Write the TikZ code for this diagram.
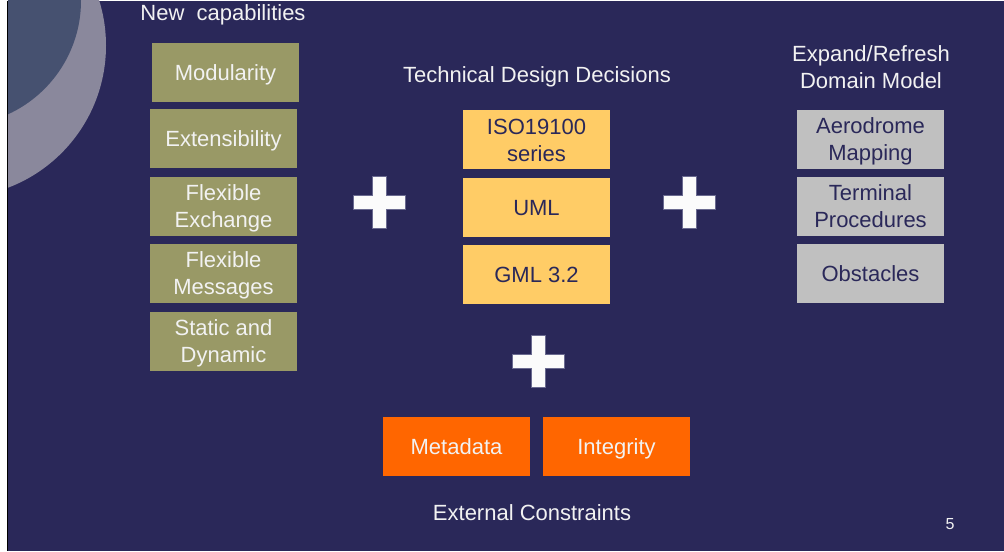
\documentclass[tikz,border=0pt]{standalone}
\usepackage{fontspec}
\setmainfont{Liberation Sans}
\definecolor{slidebg}{HTML}{2A2859}
\definecolor{olivebox}{HTML}{999966}
\definecolor{goldbox}{HTML}{FFCC66}
\definecolor{greybox}{HTML}{C0C0C0}
\definecolor{orangebox}{HTML}{FF6600}
\definecolor{ringlight}{HTML}{8A889C}
\definecolor{ringdark}{HTML}{465170}
\definecolor{lighttext}{HTML}{F2F2F2}
\definecolor{crossedge}{HTML}{6A6A90}
% strut as tall as an ascender, no depth: keeps capitals centred in the boxes
\newcommand\capline{\rule{0pt}{16pt}}
\tikzset{
  card/.style={rectangle, inner sep=0pt, minimum width=147pt, minimum height=59pt,
    align=center, text depth=0pt, font=\fontsize{22}{27}\selectfont},
  capbox/.style={card, fill=olivebox, text=lighttext},
  techbox/.style={card, fill=goldbox, text=slidebg},
  domainbox/.style={card, fill=greybox, text=slidebg},
  constraintbox/.style={card, fill=orangebox, text=lighttext},
  heading/.style={inner sep=0pt, align=center, text depth=0pt, text=lighttext,
    font=\fontsize{22}{27}\selectfont},
  plussign/.pic={
    \filldraw[fill=white!97!gray, draw=crossedge, line width=0.6pt]
      (-7,-26) -- (7,-26) -- (7,-7) -- (26,-7) -- (26,7) -- (7,7) -- (7,26)
      -- (-7,26) -- (-7,7) -- (-26,7) -- (-26,-7) -- (-7,-7) -- cycle;
  }
}
\begin{document}
\begin{tikzpicture}[x=1pt,y=-1pt]
  % page and slide background
  \fill[white] (0,0) rectangle (1004,550);
  \fill[slidebg] (8,0) rectangle (1004,550);
  \begin{scope}
    \clip (8,0) rectangle (1004,550);
    \fill[ringlight] (-46,45) circle[radius=152];
    \fill[ringdark] (-44,0) circle[radius=125];
  \end{scope}
  \draw[black, line width=1.2pt] (7.6,0) -- (7.6,550);

  % headings
  \node[heading] (hcap) at (223,12) {\capline New\ \ capabilities};
  \node[heading] (htech) at (537,74) {\capline Technical Design Decisions};
  \node[heading] (hdom) at (871,66) {\capline Expand/Refresh\\\capline Domain Model};
  \node[heading] (hext) at (532,512) {\capline External Constraints};
  \node[inner sep=0pt, text depth=0pt, text=lighttext, font=\fontsize{16}{18}\selectfont]
    (pageno) at (950,523) {\rule{0pt}{11.5pt}5};

  % new capabilities column
  \node[capbox] (modul) at (225.5,71.5) {\capline Modularity};
  \node[capbox] (extens) at (223.5,138) {\capline Extensibility};
  \node[capbox] (flexex) at (223.5,205.5) {\capline Flexible\\\capline Exchange};
  \node[capbox] (flexmsg) at (223.5,272.5) {\capline Flexible\\\capline Messages};
  \node[capbox] (statdyn) at (223.5,340.5) {\capline Static and\\\capline Dynamic};

  % technical design decisions column
  \node[techbox] (iso) at (536.5,139) {\capline ISO19100\\\capline series};
  \node[techbox] (uml) at (536.5,206.5) {\capline UML};
  \node[techbox] (gml) at (536.5,273.5) {\capline GML 3.2};

  % domain model column
  \node[domainbox] (aero) at (870.5,138.5) {\capline Aerodrome\\\capline Mapping};
  \node[domainbox] (term) at (870.5,205.5) {\capline Terminal\\\capline Procedures};
  \node[domainbox] (obst) at (870.5,272.5) {\capline Obstacles};

  % external constraints
  \node[constraintbox] (meta) at (456.5,445.5) {\capline Metadata};
  \node[constraintbox] (integ) at (616.5,445.5) {\capline Integrity};

  % plus signs between groups
  \pic at (379,202) {plussign};
  \pic at (689,202) {plussign};
  \pic at (538,361) {plussign};
\end{tikzpicture}
\end{document}
